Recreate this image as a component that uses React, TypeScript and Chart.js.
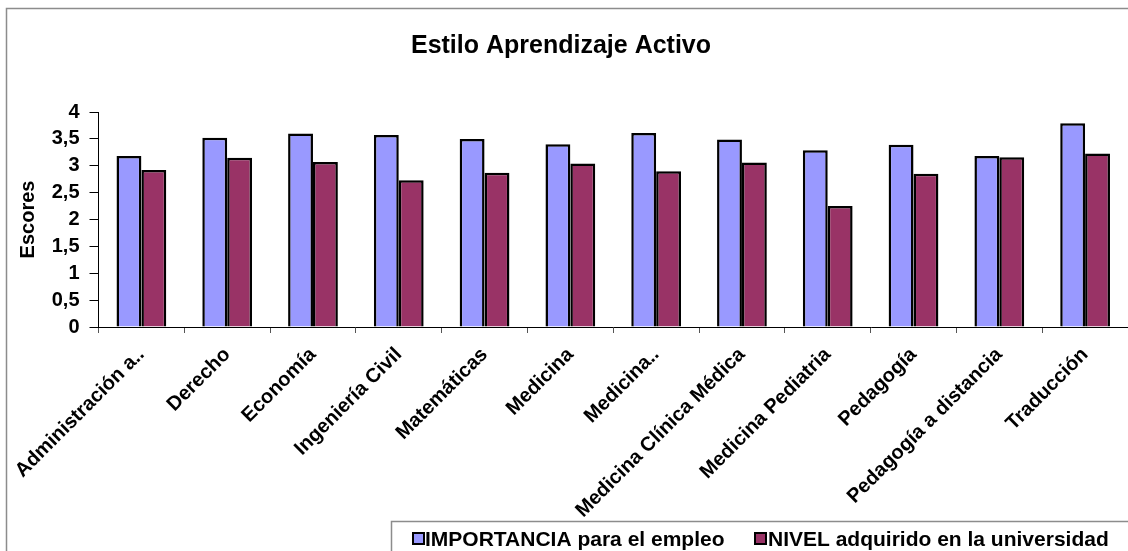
import React, { useEffect, useRef } from "react";
import { Chart, registerables } from "chart.js";

Chart.register(...registerables);

const categories = [
  "Administración a..",
  "Derecho",
  "Economía",
  "Ingeniería Civil",
  "Matemáticas",
  "Medicina",
  "Medicina..",
  "Medicina Clínica Médica",
  "Medicina Pediatria",
  "Pedagogía",
  "Pedagogía a distancia",
  "Traducción",
];

const importancia = [3.18, 3.52, 3.6, 3.57, 3.5, 3.4, 3.61, 3.49, 3.29, 3.39, 3.18, 3.79];
const nivel = [2.92, 3.15, 3.07, 2.73, 2.87, 3.04, 2.9, 3.06, 2.25, 2.85, 3.16, 3.23];

const seriesNames = ["IMPORTANCIA para el empleo", "NIVEL adquirido en la universidad"];
const seriesColors = ["#9999FF", "#993366"];
const chartTitle = "Estilo Aprendizaje Activo";
const yTitle = "Escores";

const FONT = "'Liberation Sans', Arial, sans-serif";

const decorPlugin = {
  id: "decor",
  afterDraw(chart: any) {
    const ctx = chart.ctx as CanvasRenderingContext2D;
    ctx.save();
    // outer frame
    ctx.strokeStyle = "#8c8c8c";
    ctx.lineWidth = 1.5;
    ctx.beginPath();
    ctx.moveTo(6.5, 560);
    ctx.lineTo(6.5, 8.5);
    ctx.lineTo(1140, 8.5);
    ctx.stroke();
    // title
    ctx.fillStyle = "#000";
    ctx.font = `bold 25px ${FONT}`;
    ctx.textAlign = "center";
    ctx.textBaseline = "alphabetic";
    ctx.fillText(chartTitle, 561, 53);
    // legend box
    ctx.fillStyle = "#fff";
    ctx.fillRect(391.5, 521.5, 760, 50);
    ctx.strokeStyle = "#8c8c8c";
    ctx.lineWidth = 1.5;
    ctx.strokeRect(391.5, 521.5, 760, 50);
    const items = [
      { sx: 413, tx: 425 },
      { sx: 755, tx: 768 },
    ];
    ctx.font = `bold 21px ${FONT}`;
    ctx.textAlign = "left";
    items.forEach((it, i) => {
      ctx.fillStyle = seriesColors[i];
      ctx.fillRect(it.sx, 533, 11, 11);
      ctx.strokeStyle = "#000";
      ctx.lineWidth = 2;
      ctx.strokeRect(it.sx, 533, 11, 11);
      ctx.fillStyle = "#000";
      ctx.fillText(seriesNames[i], it.tx, 546);
    });
    ctx.restore();
  },
};

export default function App() {
  const ref = useRef<HTMLCanvasElement | null>(null);
  useEffect(() => {
    if (!ref.current) return;
    const chart = new Chart(ref.current, {
      type: "bar",
      data: {
        labels: categories,
        datasets: [
          {
            label: seriesNames[0],
            data: importancia,
            backgroundColor: seriesColors[0],
            borderColor: "#000",
            borderWidth: 2.5,
            categoryPercentage: 0.58,
            barPercentage: 1,
          },
          {
            label: seriesNames[1],
            data: nivel,
            backgroundColor: seriesColors[1],
            borderColor: "#000",
            borderWidth: 2.5,
            categoryPercentage: 0.58,
            barPercentage: 1,
          },
        ],
      },
      options: {
        animation: false,
        responsive: true,
        maintainAspectRatio: false,
        layout: { padding: { top: 112, left: 0, right: 0, bottom: 0 } },
        plugins: {
          legend: { display: false },
          title: { display: false },
          tooltip: { enabled: false },
        },
        scales: {
          x: {
            grid: {
              display: true,
              drawOnChartArea: false,
              drawTicks: true,
              tickLength: 6,
              color: "#555",
              offset: true,
            },
            border: { display: true, color: "#000", width: 1 },
            ticks: {
              minRotation: 45,
              maxRotation: 45,
              autoSkip: false,
              color: "#000",
              padding: 10,
              font: { family: FONT, size: 20, weight: "bold" },
            },
            afterFit: (scale: any) => {
              scale.height = 224;
            },
          },
          y: {
            min: 0,
            max: 4,
            ticks: {
              stepSize: 0.5,
              autoSkip: false,
              color: "#000",
              padding: 10,
              font: { family: FONT, size: 20, weight: "bold" },
              callback: (v: any) => String(v).replace(".", ","),
            },
            grid: {
              display: true,
              drawOnChartArea: false,
              drawTicks: true,
              tickLength: 9,
              color: "#000",
            },
            border: { display: true, color: "#000", width: 1 },
            title: {
              display: true,
              text: yTitle,
              color: "#000",
              padding: { top: 16, bottom: 0 },
              font: { family: FONT, size: 20, weight: "bold" },
            },
            afterFit: (scale: any) => {
              scale.width = 98.5;
            },
          },
        },
      },
      plugins: [decorPlugin],
    });
    return () => chart.destroy();
  }, []);
  return (
    <div style={{ position: "fixed", left: 0, top: 0, width: 1128, height: 551, background: "#fff" }}>
      <canvas ref={ref} />
    </div>
  );
}
